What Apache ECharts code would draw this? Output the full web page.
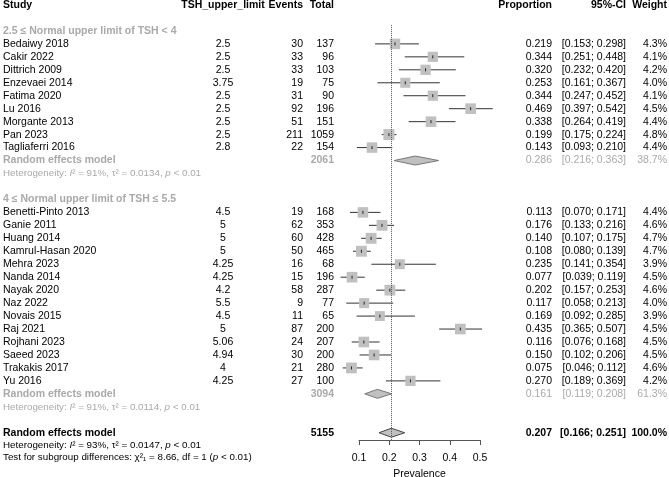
<!DOCTYPE html>
<html>
<head>
<meta charset="utf-8">
<script src="https://cdn.jsdelivr.net/npm/echarts@6/dist/echarts.min.js"></script>
<style>
html, body { margin: 0; padding: 0; background: #fff; }
#chart1 { width: 669px; height: 477px; }
</style>
</head>
<body>
<div id="chart1"></div>
<script>
// study level data
var studyNames = ['Bedaiwy 2018', 'Cakir 2022', 'Dittrich 2009', 'Enzevaei 2014', 'Fatima 2020',
  'Lu 2016', 'Morgante 2013', 'Pan 2023', 'Tagliaferri 2016',
  'Benetti-Pinto 2013', 'Ganie 2011', 'Huang 2014', 'Kamrul-Hasan 2020', 'Mehra 2023',
  'Nanda 2014', 'Nayak 2020', 'Naz 2022', 'Novais 2015', 'Raj 2021', 'Rojhani 2023',
  'Saeed 2023', 'Trakakis 2017', 'Yu 2016'];
var studyGroup = [0, 0, 0, 0, 0, 0, 0, 0, 0,
  1, 1, 1, 1, 1, 1, 1, 1, 1, 1, 1, 1, 1, 1];
var tshLimit = ['2.5', '2.5', '2.5', '3.75', '2.5', '2.5', '2.5', '2.5', '2.8',
  '4.5', '5', '5', '5', '4.25', '4.25', '4.2', '5.5', '4.5', '5', '5.06', '4.94', '4', '4.25'];
var events = [30, 33, 33, 19, 31, 92, 51, 211, 22,
  19, 62, 60, 50, 16, 15, 58, 9, 11, 87, 24, 30, 21, 27];
var totals = [137, 96, 103, 75, 90, 196, 151, 1059, 154,
  168, 353, 428, 465, 68, 196, 287, 77, 65, 200, 207, 200, 280, 100];
var proportion = [0.219, 0.344, 0.320, 0.253, 0.344, 0.469, 0.338, 0.199, 0.143,
  0.113, 0.176, 0.140, 0.108, 0.235, 0.077, 0.202, 0.117, 0.169, 0.435, 0.116, 0.150, 0.075, 0.270];
var ciLower = [0.153, 0.251, 0.232, 0.161, 0.247, 0.397, 0.264, 0.175, 0.093,
  0.070, 0.133, 0.107, 0.080, 0.141, 0.039, 0.157, 0.058, 0.092, 0.365, 0.076, 0.102, 0.046, 0.189];
var ciUpper = [0.298, 0.448, 0.420, 0.367, 0.452, 0.542, 0.419, 0.224, 0.210,
  0.171, 0.216, 0.175, 0.139, 0.354, 0.119, 0.253, 0.213, 0.285, 0.507, 0.168, 0.206, 0.112, 0.369];
var weights = [4.3, 4.1, 4.2, 4.0, 4.1, 4.5, 4.4, 4.8, 4.4,
  4.4, 4.6, 4.7, 4.7, 3.9, 4.5, 4.6, 4.0, 3.9, 4.5, 4.5, 4.5, 4.6, 4.2];

// subgroup summaries
var groupLabels = ['2.5 \u2264 Normal upper limit of TSH < 4', '4 \u2264 Normal upper limit of TSH \u2264 5.5'];
var groupTotals = [2061, 3094];
var groupProp = [0.286, 0.161];
var groupLower = [0.216, 0.119];
var groupUpper = [0.363, 0.208];
var groupWeight = [38.7, 61.3];
var groupI2 = ['91%', '91%'];
var groupTau2 = ['0.0134', '0.0114'];

// overall summary
var overallTotal = 5155;
var overallProp = 0.207;
var overallLower = 0.166;
var overallUpper = 0.251;
var overallI2 = '93%';
var overallTau2 = '0.0147';
var subgroupChi2 = '8.66';
var subgroupDf = '1';

var xTicks = [0.1, 0.2, 0.3, 0.4, 0.5];

var FONT = '"Liberation Sans", Arial, sans-serif';
var GREY = '#a9a9a9';
var cols = {
  study: { x: 3, align: 'left' },
  tsh: { x: 223, align: 'center' },
  events: { x: 303, align: 'right' },
  total: { x: 334, align: 'right' },
  prop: { x: 552, align: 'right' },
  ci: { x: 626, align: 'right' },
  weight: { x: 667, align: 'right' }
};

function fmt3(v) { return v.toFixed(3); }
function ciText(lo, hi) { return '[' + fmt3(lo) + '; ' + fmt3(hi) + ']'; }

// build row layout
var tableRows = [];
var studyRows = [];
var diamondRows = [];
function cell(col, text, style) { return { col: col, text: text, style: style || {} }; }

tableRows.push({ row: 0, cells: [
  cell('study', 'Study', { bold: true }), cell('tsh', 'TSH_upper_limit', { bold: true }),
  cell('events', 'Events', { bold: true }), cell('total', 'Total', { bold: true }),
  cell('prop', 'Proportion', { bold: true }), cell('ci', '95%-CI', { bold: true }),
  cell('weight', 'Weight', { bold: true })
]});

var r = 2;
for (var g = 0; g < groupLabels.length; g++) {
  tableRows.push({ row: r, cells: [cell('study', groupLabels[g], { bold: true, color: GREY })] });
  r++;
  for (var i = 0; i < studyNames.length; i++) {
    if (studyGroup[i] !== g) continue;
    tableRows.push({ row: r, cells: [
      cell('study', studyNames[i]), cell('tsh', tshLimit[i]),
      cell('events', String(events[i])), cell('total', String(totals[i])),
      cell('prop', fmt3(proportion[i])), cell('ci', ciText(ciLower[i], ciUpper[i])),
      cell('weight', weights[i].toFixed(1) + '%')
    ]});
    studyRows.push([r, proportion[i], ciLower[i], ciUpper[i], weights[i]]);
    r++;
  }
  tableRows.push({ row: r, cells: [
    cell('study', 'Random effects model', { bold: true, color: GREY }),
    cell('total', String(groupTotals[g]), { bold: true, color: GREY }),
    cell('prop', fmt3(groupProp[g]), { color: GREY }),
    cell('ci', ciText(groupLower[g], groupUpper[g]), { color: GREY }),
    cell('weight', groupWeight[g].toFixed(1) + '%', { color: GREY })
  ]});
  diamondRows.push([r, groupProp[g], groupLower[g], groupUpper[g], 0]);
  r++;
  tableRows.push({ row: r, cells: [
    cell('study', 'Heterogeneity: {it|I}\u00b2 = ' + groupI2[g] + ', \u03c4\u00b2 = ' + groupTau2[g] + ', {it|p} < 0.01',
      { small: true, color: GREY })
  ]});
  r += 2;
}
tableRows.push({ row: r, cells: [
  cell('study', 'Random effects model', { bold: true }),
  cell('total', String(overallTotal), { bold: true }),
  cell('prop', fmt3(overallProp), { bold: true }),
  cell('ci', ciText(overallLower, overallUpper), { bold: true }),
  cell('weight', '100.0%', { bold: true })
]});
diamondRows.push([r, overallProp, overallLower, overallUpper, 1]);
tableRows.push({ row: r + 1.0, cells: [
  cell('study', 'Heterogeneity: {it|I}\u00b2 = ' + overallI2 + ', \u03c4\u00b2 = ' + overallTau2 + ', {it|p} < 0.01', { small: true })
]});
tableRows.push({ row: r + 1.9, cells: [
  cell('study', 'Test for subgroup differences: \u03c7\u00b2\u2081 = ' + subgroupChi2 + ', df = ' + subgroupDf + ' ({it|p} < 0.01)', { small: true })
]});

var dom = document.getElementById('chart1');
var myChart = echarts.init(dom, null, { renderer: 'canvas' });

var option = {
  animation: false,
  backgroundColor: '#fff',
  grid: { left: 359, right: 189, top: 5, bottom: 37, containLabel: false, outerBoundsMode: 'none' },
  xAxis: {
    type: 'value', min: xTicks[0], max: xTicks[xTicks.length - 1], interval: 0.1,
    position: 'bottom',
    axisLine: { show: true, onZero: false, lineStyle: { color: '#555', width: 1 } },
    axisTick: { show: true, length: 5, lineStyle: { color: '#555' } },
    splitLine: { show: false },
    axisLabel: { fontSize: 10.5, color: '#000', fontFamily: FONT, margin: 13,
      formatter: function (v) { return (+v).toFixed(1); } },
    name: 'Prevalence', nameLocation: 'middle', nameGap: 25,
    nameTextStyle: { fontSize: 10.5, color: '#000', fontFamily: FONT }
  },
  yAxis: { type: 'value', inverse: true, min: 0, max: 33.56, show: false },
  series: [
    {
      name: 'studies', type: 'custom', clip: false, silent: true,
      data: studyRows,
      renderItem: function (params, api) {
        var row = api.value(0);
        var c = api.coord([api.value(1), row]);
        var lo = api.coord([api.value(2), row]);
        var hi = api.coord([api.value(3), row]);
        var s = 11 * Math.sqrt(api.value(4) / 4.8);
        return {
          type: 'group',
          children: [
            { type: 'line', shape: { x1: lo[0], y1: c[1], x2: hi[0], y2: c[1] },
              style: { stroke: '#333', lineWidth: 1 } },
            { type: 'rect', shape: { x: c[0] - s / 2, y: c[1] - s / 2, width: s, height: s },
              style: { fill: '#c0c0c0' } },
            { type: 'line', shape: { x1: c[0], y1: c[1] - 1.5, x2: c[0], y2: c[1] + 1.5 },
              style: { stroke: '#222', lineWidth: 1 } }
          ]
        };
      },
      markLine: {
        silent: true, symbol: 'none', animation: false,
        label: { show: false },
        lineStyle: { type: 'dotted', color: '#555', width: 1 },
        data: [[{ coord: [overallProp, 1.55] }, { coord: [overallProp, 33.56] }]]
      }
    },
    {
      name: 'diamonds', type: 'custom', clip: false, silent: true,
      data: diamondRows,
      renderItem: function (params, api) {
        var row = api.value(0);
        var c = api.coord([api.value(1), row]);
        var lo = api.coord([api.value(2), row]);
        var hi = api.coord([api.value(3), row]);
        var h = 4.5;
        return {
          type: 'polygon',
          shape: { points: [[lo[0], c[1]], [c[0], c[1] - h], [hi[0], c[1]], [c[0], c[1] + h]] },
          style: { fill: '#c0c0c0', stroke: api.value(4) ? '#444' : '#777', lineWidth: 1 }
        };
      }
    },
    {
      name: 'table', type: 'custom', clip: false, silent: true,
      data: tableRows.map(function (t) { return [0.3, t.row]; }),
      renderItem: function (params, api) {
        var t = tableRows[params.dataIndex];
        var y = api.coord([0.3, api.value(1)])[1];
        var children = t.cells.map(function (cl) {
          var st = cl.style;
          var size = st.small ? 9.8 : 10.5;
          var color = st.color || '#000';
          return {
            type: 'text',
            style: {
              text: cl.text,
              x: cols[cl.col].x, y: y,
              align: cols[cl.col].align, verticalAlign: 'middle',
              fill: color,
              fontFamily: FONT, fontSize: size, fontWeight: st.bold ? 'bold' : 'normal',
              rich: {
                it: { fontStyle: 'italic', fontFamily: FONT, fontSize: size, fill: color, color: color }
              }
            }
          };
        });
        return { type: 'group', children: children };
      }
    }
  ]
};

myChart.setOption(option);
</script>
</body>
</html>
